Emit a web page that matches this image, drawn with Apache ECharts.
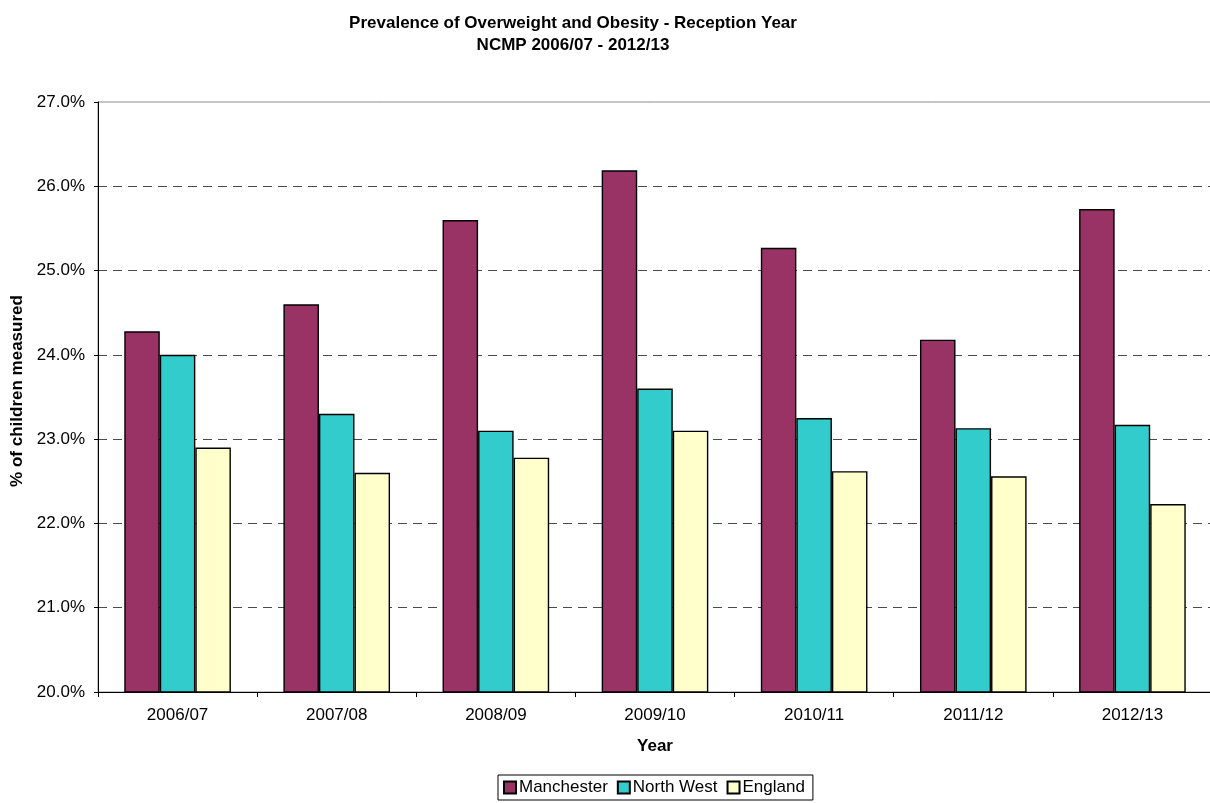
<!DOCTYPE html>
<html>
<head>
<meta charset="utf-8">
<title>Prevalence of Overweight and Obesity - Reception Year</title>
<script src="https://cdn.jsdelivr.net/npm/echarts@6/dist/echarts.min.js"></script>
<style>
  html, body { margin: 0; padding: 0; background: #ffffff; }
  #chart { width: 1210px; height: 803px; }
</style>
</head>
<body>
<div id="chart"></div>
<script>
// School years measured by the NCMP
const years = ['2006/07', '2007/08', '2008/09', '2009/10', '2010/11', '2011/12', '2012/13'];

// Share of Reception children overweight or obese (%)
const manchester = [24.28, 24.60, 25.60, 26.19, 25.27, 24.18, 25.73];
const northWest  = [24.00, 23.30, 23.10, 23.60, 23.25, 23.13, 23.17];
const england    = [22.90, 22.60, 22.78, 23.10, 22.62, 22.56, 22.23];

// Y axis range and step (%)
const yMin = 20;
const yMax = 27;
const yStep = 1;

const FONT = '"Liberation Sans", Arial, sans-serif';

const chart = echarts.init(document.getElementById('chart'), null, { renderer: 'canvas' });

// One dashed gridline per tick; the top one stays hidden so the solid plot border shows
const gridColors = [];
for (let v = yMin; v <= yMax; v += yStep) {
  gridColors.push(v === yMax ? 'rgba(0,0,0,0)' : '#4a4a4a');
}

const barStyle = (fill) => ({ color: fill, borderColor: '#000000', borderWidth: 1.4 });

chart.setOption({
  animation: false,
  backgroundColor: '#ffffff',
  textStyle: { fontFamily: FONT },
  title: {
    text: 'Prevalence of Overweight and Obesity - Reception Year\nNCMP 2006/07 - 2012/13',
    left: 568,
    top: 7,
    textAlign: 'center',
    textStyle: { fontFamily: FONT, fontSize: 17, fontWeight: 'bold', color: '#000000', lineHeight: 22 }
  },
  grid: {
    left: 98,
    width: 1114,
    top: 102,
    height: 590,
    outerBoundsMode: 'none',
    show: true,
    borderColor: '#8c8c8c',
    borderWidth: 1,
    containLabel: false
  },
  legend: {
    data: ['Manchester', 'North West', 'England'],
    left: 498,
    top: 775,
    orient: 'horizontal',
    itemWidth: 12,
    itemHeight: 12,
    itemGap: 9,
    padding: [4, 8, 4, 5],
    borderColor: '#000000',
    borderWidth: 1,
    icon: 'rect',
    textStyle: { fontFamily: FONT, fontSize: 17, color: '#000000', padding: [0, 0, 0, -2] }
  },
  xAxis: {
    type: 'category',
    data: years,
    boundaryGap: true,
    name: 'Year',
    nameLocation: 'middle',
    nameGap: 46,
    nameTextStyle: { fontFamily: FONT, fontSize: 17, fontWeight: 'bold', color: '#000000' },
    axisLine: { show: true, lineStyle: { color: '#000000', width: 1 } },
    axisTick: { show: true, length: 5, lineStyle: { color: '#000000' } },
    axisLabel: { fontFamily: FONT, fontSize: 17, color: '#000000', margin: 15 },
    splitLine: { show: false }
  },
  yAxis: {
    type: 'value',
    min: yMin,
    max: yMax,
    interval: yStep,
    name: '% of children measured',
    nameLocation: 'middle',
    nameRotate: 90,
    nameGap: 71,
    nameTextStyle: {
      fontFamily: FONT,
      fontSize: 17,
      fontWeight: 'bold',
      color: '#000000',
      padding: [0, 0, 0, 12]
    },
    axisLine: { show: true, lineStyle: { color: '#000000', width: 1 } },
    axisTick: { show: true, length: 4, lineStyle: { color: '#000000' } },
    axisLabel: {
      fontFamily: FONT,
      fontSize: 17,
      color: '#000000',
      margin: 13,
      formatter: (v) => v.toFixed(1) + '%'
    },
    splitLine: {
      show: true,
      lineStyle: { color: gridColors, width: 1, type: [9, 6] }
    }
  },
  series: [
    {
      name: 'Manchester',
      type: 'bar',
      data: manchester,
      barGap: '0%',
      barCategoryGap: '33%',
      itemStyle: barStyle('#993366')
    },
    {
      name: 'North West',
      type: 'bar',
      data: northWest,
      barGap: '0%',
      barCategoryGap: '33%',
      itemStyle: barStyle('#33CCCC')
    },
    {
      name: 'England',
      type: 'bar',
      data: england,
      barGap: '0%',
      barCategoryGap: '33%',
      itemStyle: barStyle('#FFFFCC')
    }
  ]
});
</script>
</body>
</html>
